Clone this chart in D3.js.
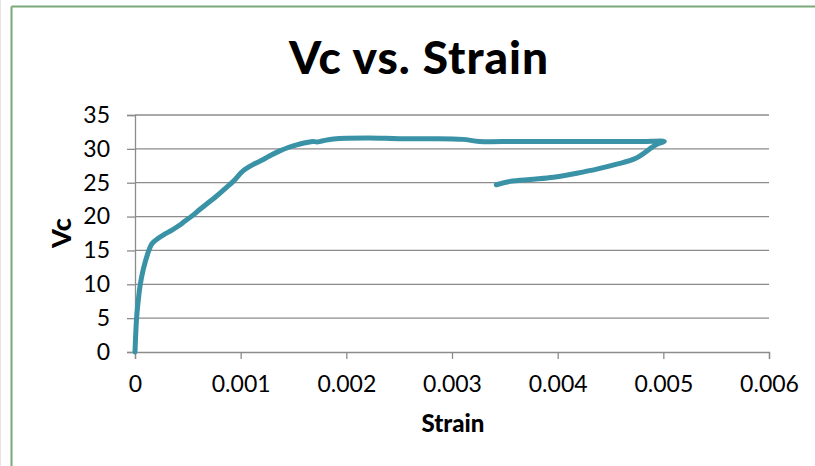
<!DOCTYPE html>
<html><head><meta charset="utf-8">
<script src="https://cdn.jsdelivr.net/npm/d3@7"></script>
<style>body{margin:0;background:#fff}svg{display:block}</style>
</head><body>
<svg id="c" width="815" height="466"></svg>
<script>
const strain = [0, 0.000005, 0.000015, 0.00003, 0.00005, 0.00008, 0.00012, 0.00016, 0.00022, 0.00028, 0.00035, 0.00041, 0.00047, 0.00054, 0.00061, 0.00069, 0.00077, 0.00085, 0.00093, 0.00102, 0.00112, 0.00121, 0.00129, 0.00137, 0.00145, 0.00153, 0.00161, 0.00169, 0.00172, 0.00178, 0.00188, 0.0022, 0.0025, 0.0028, 0.0031, 0.00326, 0.0036, 0.0040, 0.0044, 0.0048, 0.00501, 0.00493, 0.00474, 0.00455, 0.00437, 0.00418, 0.00396, 0.00377, 0.00355, 0.00342];
const vc = [0, 2, 5, 7.5, 10, 12.3, 14.5, 16, 16.8, 17.4, 18, 18.6, 19.3, 20.1, 21, 22, 23, 24.1, 25.2, 26.7, 27.7, 28.4, 29.1, 29.7, 30.2, 30.6, 30.9, 31.1, 31.0, 31.2, 31.45, 31.6, 31.5, 31.5, 31.4, 31.1, 31.1, 31.1, 31.1, 31.1, 31.1, 30.6, 28.6, 27.7, 27, 26.4, 25.8, 25.5, 25.2, 24.7];
const xTicks = [0, 0.001, 0.002, 0.003, 0.004, 0.005, 0.006];
const yTicks = [0, 5, 10, 15, 20, 25, 30, 35];
const titleText = "Vc vs. Strain";
const xLabel = "Strain";
const yLabel = "Vc";

const svg = d3.select("#c");
const font = "Lato, 'Open Sans', sans-serif";
const x = d3.scaleLinear().domain([0, 0.006]).range([135, 769]);
const y = d3.scaleLinear().domain([0, 35]).range([352, 115]);

// border
svg.append("line").attr("x1", 11.5).attr("x2", 815).attr("y1", 6.5).attr("y2", 6.5).attr("stroke", "#79a879").attr("stroke-width", 2);
svg.append("line").attr("x1", 11.5).attr("x2", 11.5).attr("y1", 6.5).attr("y2", 466).attr("stroke", "#79a879").attr("stroke-width", 2);
svg.append("line").attr("x1", 0.5).attr("x2", 0.5).attr("y1", 0).attr("y2", 466).attr("stroke", "#e4e4e4").attr("stroke-width", 1);

// gridlines
svg.append("g").selectAll("line").data(yTicks.filter(d => d > 0)).join("line")
  .attr("x1", x(0)).attr("x2", x(0.006))
  .attr("y1", d => y(d)).attr("y2", d => y(d))
  .attr("stroke", "#8c8c8c").attr("stroke-width", 1.3);

// axes
const yAxis = svg.append("g").attr("transform", `translate(${x(0)},0)`)
  .call(d3.axisLeft(y).tickValues(yTicks).tickSize(8).tickPadding(17).tickFormat(d3.format("d")));
const xAxis = svg.append("g").attr("transform", `translate(0,${y(0)})`)
  .call(d3.axisBottom(x).tickValues(xTicks).tickSize(7).tickPadding(17).tickFormat(d => d === 0 ? "0" : d3.format(".3f")(d)));
[xAxis, yAxis].forEach(g => {
  g.select(".domain").attr("stroke", "#8c8c8c").attr("stroke-width", 1.3);
  g.selectAll(".tick line").attr("stroke", "#8c8c8c").attr("stroke-width", 1.3);
  g.selectAll("text").attr("fill", "#000").style("font-family", font).style("font-size", "23px");
});

// line
const pts = strain.map((s, i) => [s, vc[i]]);
svg.append("path").datum(pts)
  .attr("d", d3.line().x(d => x(d[0])).y(d => y(d[1])).curve(d3.curveCatmullRom))
  .attr("fill", "none").attr("stroke", "#3a92a7").attr("stroke-width", 5)
  .attr("stroke-linecap", "round").attr("stroke-linejoin", "round");

// titles
svg.append("text").attr("x", 419).attr("y", 74).attr("text-anchor", "middle")
  .style("font-family", font).style("font-weight", "900").style("font-size", "46px")
  .style("letter-spacing", "1px").text(titleText);
svg.append("text").attr("x", 453).attr("y", 432).attr("text-anchor", "middle")
  .style("font-family", font).style("font-weight", "900").style("font-size", "24px").text(xLabel);
svg.append("text").attr("transform", "translate(71,233) rotate(-90)").attr("text-anchor", "middle")
  .style("font-family", font).style("font-weight", "900").style("font-size", "27px").text(yLabel);
</script>
</body></html>
